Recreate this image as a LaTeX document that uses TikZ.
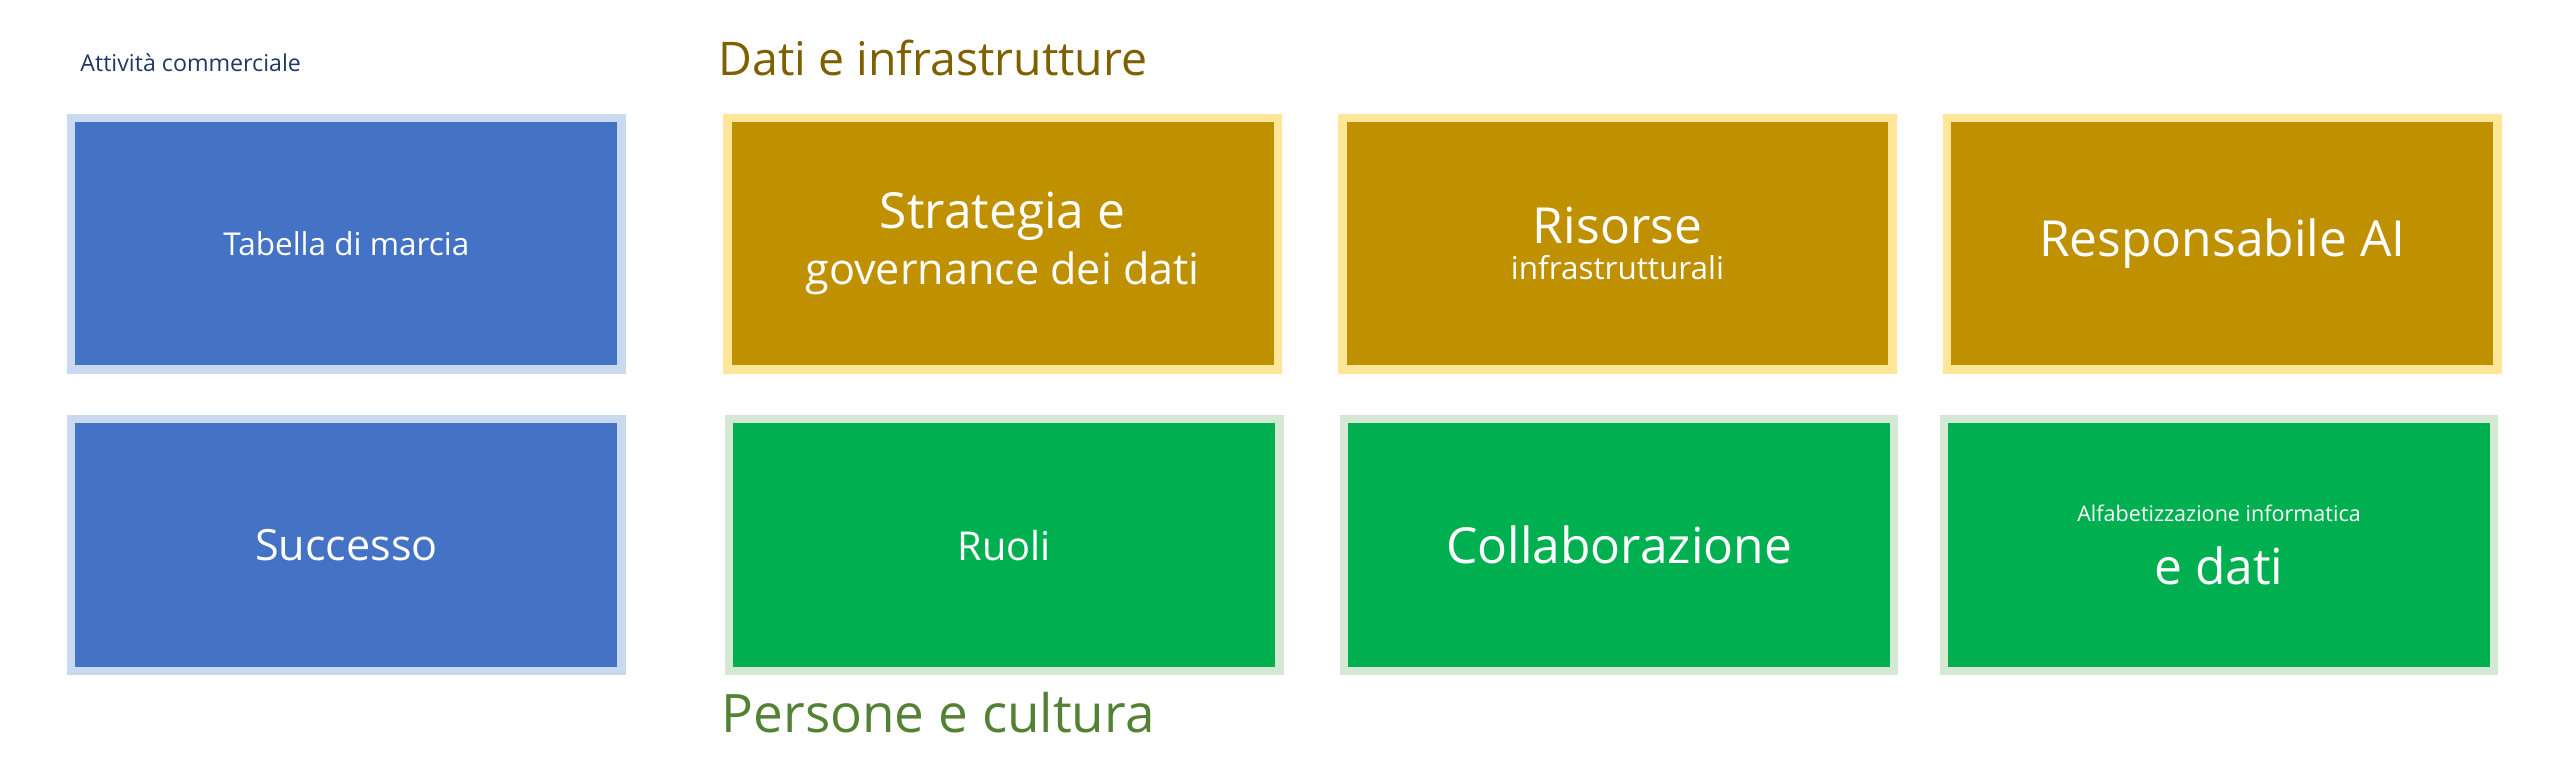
\documentclass[tikz,border=0pt]{standalone}
\usepackage{fontspec}
\setmainfont{Open Sans}
\definecolor{cblue}{RGB}{68,114,196}
\definecolor{cblueb}{RGB}{201,218,240}
\definecolor{cgold}{RGB}{191,144,0}
\definecolor{cgoldb}{RGB}{255,230,153}
\definecolor{cgreen}{RGB}{0,176,80}
\definecolor{cgreenb}{RGB}{213,232,212}
\definecolor{tblue}{RGB}{31,56,100}
\definecolor{tgold}{RGB}{127,96,0}
\definecolor{tgreen}{RGB}{84,130,53}
\begin{document}
\begin{tikzpicture}[x=1pt,y=-1pt,
  box/.style={line width=5pt,minimum width=332pt,minimum height=152pt,text=white,align=center,inner sep=0pt},
  bl/.style={box,draw=cblueb,fill=cblue},
  gd/.style={box,draw=cgoldb,fill=cgold},
  gr/.style={box,draw=cgreenb,fill=cgreen}]
\useasboundingbox (0,0) rectangle (1552,469);
\node[bl,font=\fontsize{19}{23}\selectfont] (b1) at (209,147) {Tabella di marcia};
\node[bl,font=\fontsize{26}{30}\selectfont] (b2) at (209,329) {Successo};
\node[gd,font=\fontsize{30}{36}\selectfont] (g1) at (605,147) {Strategia e\\[-2pt]{\fontsize{26}{30}\selectfont governance dei dati}};
\node[gd] (g2) at (976,147) {{\fontsize{30}{34}\selectfont Risorse}\\[6pt]{\fontsize{19}{22}\selectfont infrastrutturali}};
\node[gd,font=\fontsize{30}{36}\selectfont] (g3) at (1341,147) {Responsabile AI};
\node[gr,font=\fontsize{24}{28}\selectfont] (r1) at (606,329) {Ruoli};
\node[gr,font=\fontsize{30}{36}\selectfont] (r2) at (977,329) {Collaborazione};
\node[gr] (r3) at (1339,329) {{\fontsize{13}{16}\selectfont Alfabetizzazione informatica}\\[14pt]{\fontsize{30}{34}\selectfont e dati}};
\node[anchor=west,text=tblue,font=\fontsize{14}{16}\selectfont] (t1) at (45,38) {Attività commerciale};
\node[anchor=west,text=tgold,font=\fontsize{28}{32}\selectfont] (t2) at (430,35) {Dati e infrastrutture};
\node[anchor=west,text=tgreen,font=\fontsize{32}{36}\selectfont] (t3) at (432,430) {Persone e cultura};
\end{tikzpicture}
\end{document}
